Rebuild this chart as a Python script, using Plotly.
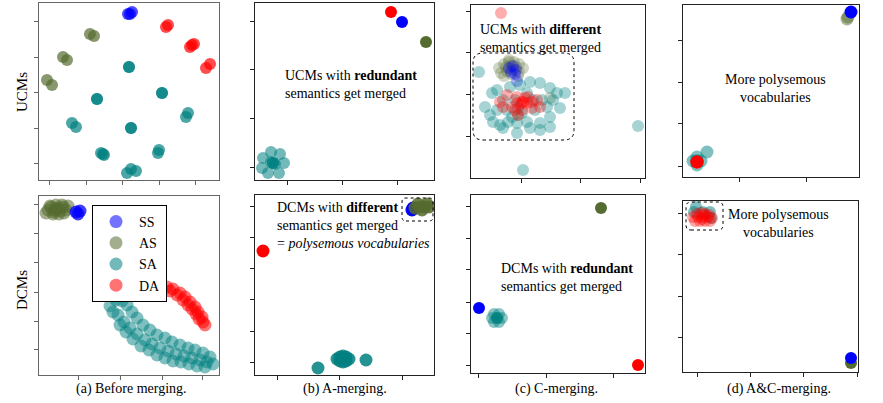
import plotly.graph_objects as go

W, H = 883, 403
FONT = "Liberation Serif"
SERIES = ["SS", "AS", "SA", "DA"]
COLOR = {"SS": "#0000ff", "AS": "#556b2f", "SA": "#008080", "DA": "#ff0000"}

# ---------------- data: 2-D embedding coordinates per panel ----------------
# (a) Before merging
A_TOP_SS = [(89, 166), (93, 168), (91, 166)]
A_TOP_AS = [(51, 146), (55, 144), (24, 123), (28, 120), (8, 100), (13, 95)]
A_TOP_SA = [(90, 113), (90, 113), (58, 81), (58, 81), (123, 87), (123, 87), (33, 57), (37, 53),
            (92, 52), (92, 52), (147, 63), (149, 67), (64, 26), (65, 25), (62, 27), (120, 30),
            (119, 27), (92, 11), (88, 7), (97, 9)]
A_TOP_DA = [(127, 153), (129, 155), (153, 135), (151, 133), (155, 136), (171, 116), (167, 112)]

A_BOT_SS = [(37, 163), (41, 164), (39, 161)]
A_BOT_AS = [(9, 165), (12, 168), (15, 163), (18, 167), (21, 164), (24, 168), (27, 165), (14, 161),
            (20, 161), (25, 162), (11, 169), (17, 170), (23, 170), (19, 166), (16, 165), (29, 169), (7, 162)]
A_BOT_SA = [(71, 69), (77, 75), (83, 74), (88, 70), (93, 63), (98, 57), (104, 50), (111, 45), (118, 40),
            (126, 37), (133, 33), (141, 30), (149, 27), (156, 25), (164, 22), (171, 18),
            (74, 63), (79, 60), (85, 53), (91, 47), (98, 41), (106, 35), (113, 31), (121, 27), (129, 24),
            (137, 21), (145, 19), (153, 17), (161, 15), (168, 13), (174, 11),
            (81, 50), (87, 43), (94, 36), (102, 29), (110, 25), (118, 20), (126, 17), (134, 14),
            (142, 13), (150, 11), (158, 9), (166, 8)]
A_BOT_DA = [(121, 90), (128, 88), (134, 86), (141, 82), (146, 78), (151, 73), (156, 68), (159, 63),
            (163, 58), (164, 53), (166, 50), (131, 84), (138, 80), (144, 75), (149, 70), (153, 66),
            (157, 61), (160, 56)]

# (b) A-merging
B_TOP_SS = [(147, 158)]
B_TOP_AS = [(171, 138)]
B_TOP_SA = [(18, 17), (18, 17), (18, 17), (20, 16), (16, 18), (29, 17), (25, 26), (16, 28), (8, 22),
            (7, 12), (13, 7), (24, 7)]
B_TOP_DA = [(136, 168)]

B_BOT_SS = [(157, 165), (158, 167)]
B_BOT_AS = [(160, 167), (165, 168), (170, 168), (174, 168), (167, 165), (163, 171), (172, 171)]
B_BOT_SA = [(63, 7), (111, 15), (82, 16), (85, 14), (85, 18), (88, 16), (91, 14), (91, 18), (94, 16),
            (88, 13), (88, 19)]
B_BOT_DA = [(8, 124)]

# (c) C-merging
C_TOP_SS = [(38, 110), (42, 112), (45, 108), (40, 106), (44, 104), (46, 97)]
C_TOP_AS = [(28, 110), (33, 114), (38, 116), (43, 116), (48, 114), (52, 110), (30, 105), (36, 107),
            (42, 108), (48, 106), (35, 111), (45, 111), (40, 112), (40, 104), (33, 102), (47, 102),
            (38, 118), (47, 63), (79, 80)]
C_TOP_SA = [(21, 85), (14, 71), (19, 63), (29, 53), (37, 56), (46, 45), (59, 50), (69, 55), (79, 61),
            (89, 70), (94, 85), (79, 90), (69, 95), (59, 96), (71, 78), (82, 78), (41, 61), (51, 65),
            (32, 78), (26, 68), (64, 68), (76, 71), (56, 56), (46, 55), (86, 85), (26, 88), (39, 91),
            (49, 93), (56, 85), (44, 78), (62, 78), (36, 68), (47, 70), (22, 56), (32, 50), (69, 48),
            (79, 51), (8, 106), (167, 52), (52, 8)]
C_TOP_DA = [(30, 165), (29, 76), (36, 83), (46, 81), (57, 81), (66, 78), (69, 71), (61, 70), (51, 68),
            (47, 63), (41, 71), (32, 71), (51, 76), (56, 75), (46, 75), (54, 80), (61, 76), (44, 68),
            (52, 76), (50, 74)]

C_BOT_SS = [(8, 65)]
C_BOT_AS = [(130, 165)]
C_BOT_SA = [(26, 55), (26, 55), (26, 55), (31, 55), (28, 59), (23, 59), (21, 55), (23, 51), (28, 51)]
C_BOT_DA = [(167, 8)]

# (d) A&C-merging
D_TOP_SS = [(168, 165)]
D_TOP_AS = [(165, 160), (164, 158)]
D_TOP_SA = [(14, 16), (14, 16), (18, 16), (10, 16), (14, 20), (14, 12), (24, 25)]
D_TOP_DA = [(14, 15), (14, 15)]

D_BOT_SS = [(168, 14)]
D_BOT_AS = [(168, 9)]
D_BOT_SA = [(13, 165), (11, 160), (20, 160), (27, 160), (28, 154)]
D_BOT_DA = [(10, 155), (14, 158), (18, 159), (22, 158), (26, 157), (29, 154), (12, 151), (17, 151),
            (22, 151), (27, 151), (15, 155), (20, 155), (25, 155), (19, 153), (21, 157)]

DATA = {
    "a_top": {"SS": A_TOP_SS, "AS": A_TOP_AS, "SA": A_TOP_SA, "DA": A_TOP_DA},
    "b_top": {"SS": B_TOP_SS, "AS": B_TOP_AS, "SA": B_TOP_SA, "DA": B_TOP_DA},
    "c_top": {"SS": C_TOP_SS, "AS": C_TOP_AS, "SA": C_TOP_SA, "DA": C_TOP_DA},
    "d_top": {"SS": D_TOP_SS, "AS": D_TOP_AS, "SA": D_TOP_SA, "DA": D_TOP_DA},
    "a_bot": {"SS": A_BOT_SS, "AS": A_BOT_AS, "SA": A_BOT_SA, "DA": A_BOT_DA},
    "b_bot": {"SS": B_BOT_SS, "AS": B_BOT_AS, "SA": B_BOT_SA, "DA": B_BOT_DA},
    "c_bot": {"SS": C_BOT_SS, "AS": C_BOT_AS, "SA": C_BOT_SA, "DA": C_BOT_DA},
    "d_bot": {"SS": D_BOT_SS, "AS": D_BOT_AS, "SA": D_BOT_SA, "DA": D_BOT_DA},
}

# ---------------- layout of panels (pixel frames) ----------------
PANELS = [
    dict(key="a_top", frame=(39, 3, 219, 180), xt=[10, 47, 83, 120, 156], yt=[159, 123, 88, 52, 17],
         size=12, op={"SS": 0.7, "AS": 0.7, "SA": 0.7, "DA": 0.7}, order=["AS", "SS", "SA", "DA"], line="#666"),
    dict(key="b_top", frame=(255, 3, 434, 180), xt=[32, 87, 142], yt=[159, 111, 62, 13],
         size=12, op={"SS": 1, "AS": 1, "SA": 0.55, "DA": 1}, order=["AS", "SS", "SA", "DA"], line="#222"),
    dict(key="c_top", frame=(471, 5, 645, 178), xt=[50, 109, 169], yt=[167, 126, 84, 42],
         size=12, op={"SS": 0.3, "AS": 0.28, "SA": 0.35, "DA": 0.32}, order=["AS", "SS", "SA", "DA"], line="#222"),
    dict(key="d_top", frame=(683, 5, 859, 177), xt=[56, 123], yt=[137, 95, 54, 11],
         size=13, op={"SS": 1, "AS": 0.5, "SA": 0.5, "DA": 1}, order=["AS", "SS", "SA", "DA"], line="#222"),
    dict(key="a_bot", frame=(39, 196, 219, 375), xt=[39, 81, 123, 163], yt=[171, 142, 113, 83, 54, 26],
         size=13, op={"SS": 0.75, "AS": 0.55, "SA": 0.5, "DA": 0.55}, order=["AS", "SS", "SA", "DA"], line="#666"),
    dict(key="b_bot", frame=(255, 195, 434, 375), xt=[22, 84, 147], yt=[169, 138, 107, 76, 44, 13],
         size=13, op={"SS": 1, "AS": 0.85, "SA": 0.85, "DA": 1}, order=["SS", "AS", "SA", "DA"], line="#222"),
    dict(key="c_bot", frame=(471, 195, 645, 373), xt=[7, 75, 142], yt=[167, 135, 104, 71, 40, 8],
         size=12, op={"SS": 1, "AS": 1, "SA": 0.45, "DA": 1}, order=["AS", "SS", "SA", "DA"], line="#222"),
    dict(key="d_bot", frame=(683, 201, 858, 372), xt=[14, 67, 120, 174], yt=[159, 118, 76, 35],
         size=12, op={"SS": 1, "AS": 1, "SA": 0.5, "DA": 0.35}, order=["AS", "SS", "SA", "DA"], line="#222"),
]

fig = go.Figure()
layout = {}
for i, p in enumerate(PANELS, start=1):
    L, T, R, B = p["frame"]
    xa = "x" if i == 1 else f"x{i}"
    ya = "y" if i == 1 else f"y{i}"
    for s in p["order"]:
        pts = DATA[p["key"]][s]
        fig.add_trace(go.Scatter(
            x=[q[0] for q in pts], y=[q[1] for q in pts], mode="markers",
            marker=dict(color=COLOR[s], size=p["size"], opacity=p["op"][s], line=dict(width=0)),
            xaxis=xa, yaxis=ya, showlegend=False, hoverinfo="skip"))
    common = dict(showgrid=False, zeroline=False, showline=True, mirror=True, linecolor=p["line"],
                  linewidth=1.3, ticks="outside", ticklen=4, tickcolor=p["line"], tickwidth=1,
                  showticklabels=False, fixedrange=True)
    layout["xaxis" if i == 1 else f"xaxis{i}"] = dict(
        domain=[L / W, R / W], range=[0, R - L], anchor=ya, tickvals=p["xt"], **common)
    layout["yaxis" if i == 1 else f"yaxis{i}"] = dict(
        domain=[1 - B / H, 1 - T / H], range=[0, B - T], anchor=xa, tickvals=p["yt"], **common)

# legend-only traces (panel a, bottom)
for s in SERIES:
    fig.add_trace(go.Scatter(x=[None], y=[None], mode="markers", name=s,
                             marker=dict(color=COLOR[s], size=13, opacity=0.55, line=dict(width=0)),
                             xaxis="x5", yaxis="y5", showlegend=True))


def rounded(x0, y0, x1, y1, r):
    return (f"M {x0 + r},{y0} L {x1 - r},{y0} Q {x1},{y0} {x1},{y0 + r} L {x1},{y1 - r} "
            f"Q {x1},{y1} {x1 - r},{y1} L {x0 + r},{y1} Q {x0},{y1} {x0},{y1 - r} "
            f"L {x0},{y0 + r} Q {x0},{y0} {x0 + r},{y0} Z")


shapes = [
    dict(type="path", path=rounded(147, 154, 178, 177, 4), xref="x6", yref="y6",
         line=dict(color="black", width=1, dash="dot")),
    dict(type="path", path=rounded(2, 38, 103, 125, 10), xref="x3", yref="y3",
         line=dict(color="black", width=1, dash="dot")),
    dict(type="path", path=rounded(3, 142, 40, 170, 5), xref="x8", yref="y8",
         line=dict(color="black", width=1, dash="dot")),
]

tf = dict(family=FONT, size=14, color="black")
annotations = [
    dict(text="UCMs with <b>redundant</b><br>semantics get merged", xref="x2", yref="y2", x=28, y=95,
         xanchor="left", yanchor="middle", align="left", showarrow=False, font=tf),
    dict(text="DCMs with <b>different</b><br>semantics get merged<br>= <i>polysemous vocabularies</i>",
         xref="x6", yref="y6", x=20, y=150, xanchor="left", yanchor="middle", align="left",
         showarrow=False, font=tf),
    dict(text="UCMs with <b>different</b><br>semantics get merged", xref="x3", yref="y3", x=7, y=140,
         xanchor="left", yanchor="middle", align="left", showarrow=False, font=tf),
    dict(text="DCMs with <b>redundant</b><br>semantics get merged", xref="x7", yref="y7", x=28, y=95.5,
         xanchor="left", yanchor="middle", align="left", showarrow=False, font=tf),
    dict(text="More polysemous<br>vocabularies", xref="x4", yref="y4", x=92, y=88.5,
         xanchor="center", yanchor="middle", align="center", showarrow=False, font=tf),
    dict(text="More polysemous<br>vocabularies", xref="x8", yref="y8", x=95, y=148.5,
         xanchor="center", yanchor="middle", align="center", showarrow=False, font=tf),
]
CAPTIONS = ["(a) Before merging.", "(b) A-merging.", "(c) C-merging.", "(d) A&C-merging."]
CAP_X = [131, 345, 556, 779]
for t, cx in zip(CAPTIONS, CAP_X):
    annotations.append(dict(text=t, xref="paper", yref="paper", x=cx / W, y=1 - 389 / H,
                            xanchor="center", yanchor="middle", showarrow=False, font=tf))
ROWS = ["UCMs", "DCMs"]
ROW_Y = [92, 290]
for t, ry in zip(ROWS, ROW_Y):
    annotations.append(dict(text=t, xref="paper", yref="paper", x=22 / W, y=1 - ry / H, textangle=-90,
                            xanchor="center", yanchor="middle", showarrow=False,
                            font=dict(family=FONT, size=15, color="black")))

fig.update_layout(
    width=W, height=H, margin=dict(l=0, r=0, t=0, b=0),
    paper_bgcolor="white", plot_bgcolor="white",
    shapes=shapes, annotations=annotations,
    legend=dict(x=92 / W, y=1 - 205 / H, xanchor="left", yanchor="top", bordercolor="black",
                borderwidth=1, bgcolor="white", font=dict(family=FONT, size=14, color="black"),
                itemsizing="trace", itemwidth=36, tracegroupgap=0),
    **layout,
)
fig.write_html("out.html", config={"displayModeBar": False},
               post_script="document.body.style.margin='0px';")
